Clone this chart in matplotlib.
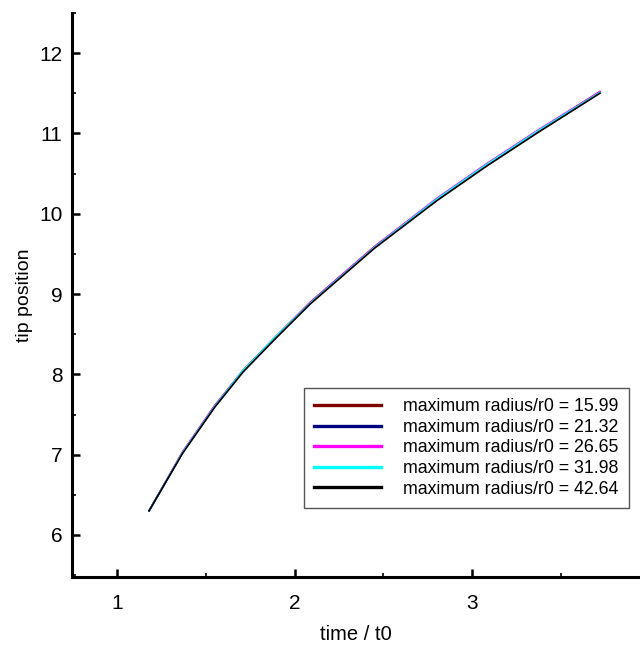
import matplotlib
matplotlib.use("Agg")
import matplotlib.pyplot as plt
from matplotlib.ticker import MultipleLocator

plt.rcParams['font.family'] = ['Liberation Sans', 'DejaVu Sans']

# Temps (en unites de t0)
temps = [1.18, 1.37, 1.55, 1.71, 1.89, 2.09, 2.45, 2.80, 3.08, 3.37, 3.72]

# Position de la pointe pour chaque rayon maximal
pos_1599 = [6.30, 7.03, 7.61, 8.05, 8.46, 8.90, 9.59, 10.18, 10.61, 11.03, 11.52]
pos_2132 = [6.30, 7.03, 7.60, 8.04, 8.45, 8.89, 9.58, 10.17, 10.60, 11.02, 11.51]
pos_2665 = [6.30, 7.04, 7.61, 8.05, 8.46, 8.90, 9.59, 10.19, 10.62, 11.04, 11.52]
pos_3198 = [6.30, 7.03, 7.60, 8.05, 8.46, 8.89, 9.58, 10.18, 10.61, 11.03, 11.51]
pos_4264 = [6.30, 7.02, 7.59, 8.03, 8.44, 8.88, 9.57, 10.16, 10.59, 11.01, 11.50]

rayons = ["15.99", "21.32", "26.65", "31.98", "42.64"]
series = [pos_1599, pos_2132, pos_2665, pos_3198, pos_4264]
couleurs = ["#800000", "#000080", "#ff00ff", "#00ffff", "#000000"]

fig = plt.figure(figsize=(6.4, 6.48), dpi=100)
ax = fig.add_axes([0.1125, 0.1096, 0.8875, 0.8704])

for r, y, c in zip(rayons, series, couleurs):
    ax.plot(temps, y, color=c, linewidth=1.2, label="maximum radius/r0 = " + r)

ax.set_xlim(0.746, 3.946)
ax.set_ylim(5.477, 12.5)

ax.xaxis.set_major_locator(MultipleLocator(1))
ax.xaxis.set_minor_locator(MultipleLocator(0.5))
ax.yaxis.set_major_locator(MultipleLocator(1))
ax.yaxis.set_minor_locator(MultipleLocator(0.5))

ax.spines['top'].set_visible(False)
ax.spines['right'].set_visible(False)
ax.spines['left'].set_linewidth(2.2)
ax.spines['bottom'].set_linewidth(2.2)

ax.tick_params(which='major', direction='in', length=6, width=1.8, labelsize=15)
ax.tick_params(axis='x', which='major', pad=12)
ax.tick_params(axis='y', which='major', pad=7)
ax.tick_params(which='minor', direction='in', length=3, width=1.2)

ax.set_xlabel("time / t0", fontsize=14.5, labelpad=9)
ax.set_ylabel("tip position", fontsize=14, labelpad=4)

leg = ax.legend(loc='lower right', bbox_to_anchor=(0.981, 0.122), fontsize=12.8,
                fancybox=False, framealpha=1, edgecolor='#555555',
                handlelength=3.75, handletextpad=1.25, labelspacing=0.2,
                borderpad=0.6, borderaxespad=0)
leg.get_frame().set_linewidth(1.0)
for line in leg.get_lines():
    line.set_linewidth(2.4)

fig.savefig("out.png", dpi=100)
